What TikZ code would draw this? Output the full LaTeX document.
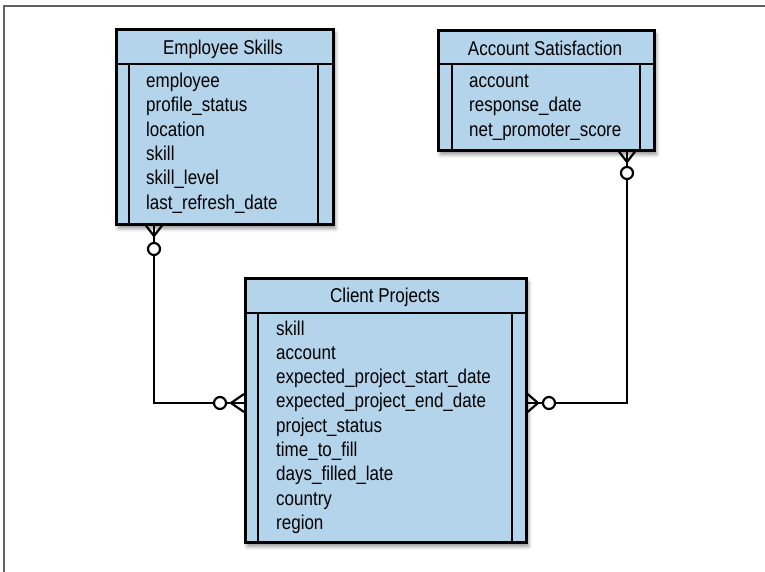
\documentclass[tikz,border=0pt]{standalone}
\usepackage{fontspec}
\setmainfont{Liberation Sans}[FakeStretch=0.85]
\usetikzlibrary{shadows.blur}
\definecolor{ent}{HTML}{B3D4EA}
\definecolor{frame}{HTML}{606060}
\begin{document}
\begin{tikzpicture}[x=1pt,y=-1pt,
  ebox/.style={draw=black, line width=2.6pt, fill=ent, inner sep=0pt, anchor=north west,
    blur shadow={shadow xshift=2pt, shadow yshift=-4pt, shadow blur radius=4pt, shadow opacity=45}},
  eline/.style={line width=2.6pt},
  conn/.style={line width=2.2pt},
  ring/.style={circle, draw=black, line width=2.2pt, fill=white, minimum size=12pt, inner sep=0pt},
  title/.style={font=\fontsize{20}{22}\selectfont, anchor=base, inner sep=0pt},
  field/.style={font=\fontsize{20}{22}\selectfont, anchor=base west, inner sep=0pt}]
\useasboundingbox (0,0) rectangle (765,572);
% frame
\draw[frame, line width=1.5pt] (4,572) -- (4,6) -- (765,6);

% Employee Skills
\node[ebox, minimum width=217pt, minimum height=195pt] (es) at (115,28) {};
\draw[eline] (115,64) -- (332,64);
\draw[eline] (129,64) -- (129,223);
\draw[eline] (318,64) -- (318,223);
\node[title] (est) at (223,54.5) {Employee Skills};
\node[field] (es1) at (146,87.5) {employee};
\node[field] (es2) at (146,111.8) {profile\_status};
\node[field] (es3) at (146,136.1) {location};
\node[field] (es4) at (146,160.4) {skill};
\node[field] (es5) at (146,184.7) {skill\_level};
\node[field] (es6) at (146,209) {last\_refresh\_date};

% Account Satisfaction
\node[ebox, minimum width=216pt, minimum height=120pt] (as) at (437,29) {};
\draw[eline] (437,64) -- (653,64);
\draw[eline] (452,64) -- (452,149);
\draw[eline] (640,64) -- (640,149);
\node[title] (ast) at (545,55.5) {Account Satisfaction};
\node[field] (as1) at (469,87.5) {account};
\node[field] (as2) at (469,111.8) {response\_date};
\node[field] (as3) at (469,136.1) {net\_promoter\_score};

% Client Projects
\node[ebox, minimum width=281pt, minimum height=264pt] (cp) at (244,277) {};
\draw[eline] (244,313) -- (525,313);
\draw[eline] (258,313) -- (258,541);
\draw[eline] (512,313) -- (512,541);
\node[title] (cpt) at (385,302.5) {Client Projects};
\node[field] (cp1) at (276,335) {skill};
\node[field] (cp2) at (276,359.3) {account};
\node[field] (cp3) at (276,383.6) {expected\_project\_start\_date};
\node[field] (cp4) at (276,407.9) {expected\_project\_end\_date};
\node[field] (cp5) at (276,432.2) {project\_status};
\node[field] (cp6) at (276,456.5) {time\_to\_fill};
\node[field] (cp7) at (276,480.8) {days\_filled\_late};
\node[field] (cp8) at (276,505.1) {country};
\node[field] (cp9) at (276,529.4) {region};

% attach points
\coordinate (esB) at (es.south -| 154,0);
\coordinate (cpL) at (cp.west |- 0,403);
\coordinate (asB) at (as.south -| 627,0);
\coordinate (cpR) at (cp.east |- 0,403);

% left connector
\draw[conn] (esB) |- (cpL);
\draw[conn] ([xshift=-8pt]esB) -- (154,236) -- ([xshift=8pt]esB);
\node[ring] (r1) at (154,249) {};
\draw[conn] ([yshift=9pt]cpL) -- (231,403) -- ([yshift=-9pt]cpL);
\node[ring] (r2) at (220,403) {};

% right connector
\draw[conn] (asB) |- (cpR);
\draw[conn] ([xshift=-8pt]asB) -- (627,162) -- ([xshift=8pt]asB);
\node[ring] (r3) at (627,173) {};
\draw[conn] ([yshift=9pt]cpR) -- (538,403) -- ([yshift=-9pt]cpR);
\node[ring] (r4) at (549,403) {};
\end{tikzpicture}
\end{document}
